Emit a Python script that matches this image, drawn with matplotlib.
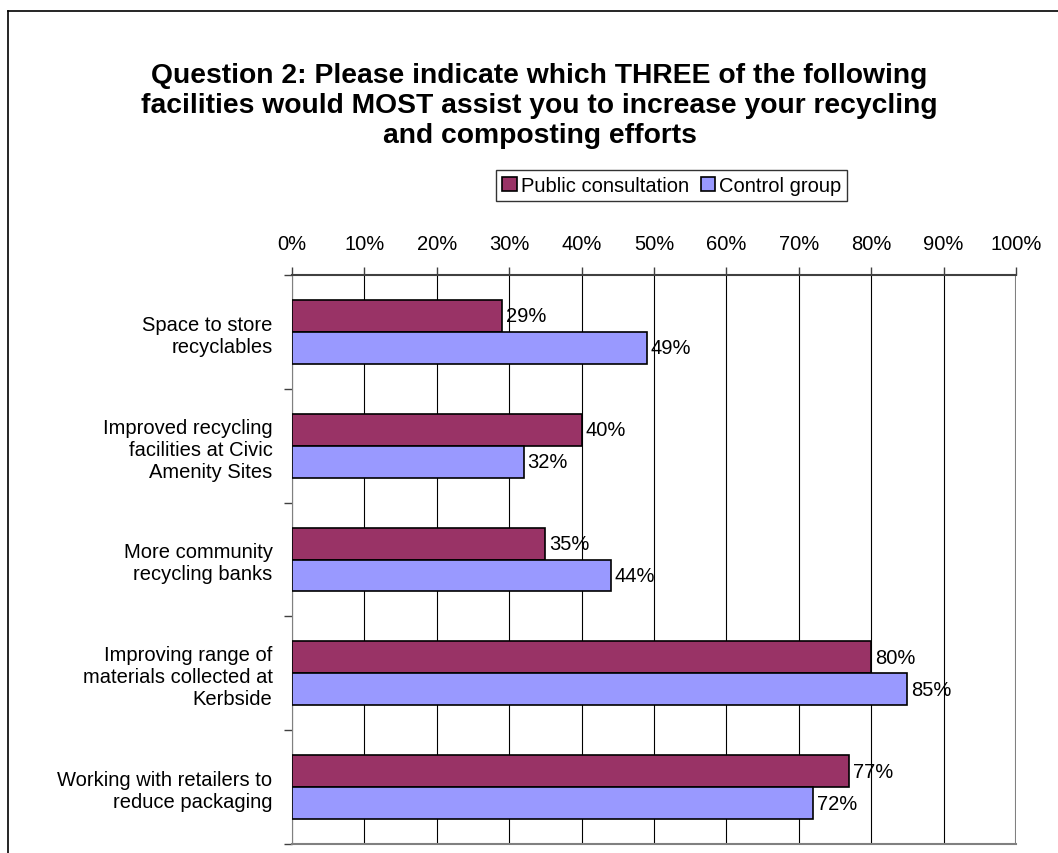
import numpy as np
import matplotlib.pyplot as plt
from matplotlib.lines import Line2D

plt.rcParams['font.family'] = ['Liberation Sans', 'DejaVu Sans']

categories = ["Space to store\nrecyclables",
              "Improved recycling\nfacilities at Civic\nAmenity Sites",
              "More community\nrecycling banks",
              "Improving range of\nmaterials collected at\nKerbside",
              "Working with retailers to\nreduce packaging"]
public_consultation = [29, 40, 35, 80, 77]
control_group = [49, 32, 44, 85, 72]
x_ticks = list(range(0, 101, 10))

fig = plt.figure(figsize=(10.58, 8.54), dpi=100)

# chart frame: top and left edges only (rest is cropped away)
fx, fy = 7.5 / 1058, 1 - 12 / 854
fig.lines.append(Line2D([fx, 1.0], [fy, fy], transform=fig.transFigure,
                        color='black', lw=1.2))
fig.lines.append(Line2D([fx, fx], [fy, 0.0], transform=fig.transFigure,
                        color='black', lw=1.2))

ax = fig.add_axes([292 / 1058, 9 / 854, 724 / 1058, 569 / 854])

y = np.arange(len(categories))
h = 0.28
ax.barh(y - h / 2, public_consultation, height=h, color='#993366',
        edgecolor='black', lw=1.2, label='Public consultation', zorder=3)
ax.barh(y + h / 2, control_group, height=h, color='#9999FF',
        edgecolor='black', lw=1.2, label='Control group', zorder=3)

for i in range(len(categories)):
    ax.text(public_consultation[i] + 0.5, y[i] - h / 2, f"{public_consultation[i]}%",
            va='center', ha='left', fontsize=14.5, zorder=4)
    ax.text(control_group[i] + 0.5, y[i] + h / 2, f"{control_group[i]}%",
            va='center', ha='left', fontsize=14.5, zorder=4)

ax.set_xlim(0, 100)
ax.set_ylim(len(categories) - 0.5, -0.5)
ax.xaxis.tick_top()
ax.set_xticks(x_ticks)
ax.set_xticklabels([f"{t}%" for t in x_ticks], fontsize=14.5)
ax.tick_params(axis='x', direction='out', length=6, width=1, color='#404040', pad=10)
ax.grid(axis='x', color='black', lw=0.8, zorder=0)
ax.get_xgridlines()[-1].set_color('#808080')
ax.get_xgridlines()[-1].set_linewidth(1.5)

ax.set_yticks(y)
ax.set_yticklabels(categories, fontsize=14.5, ha='right', multialignment='right')
ax.tick_params(axis='y', length=0, pad=14)
ax.set_yticks(np.arange(-0.5, len(categories)), minor=True)
ax.tick_params(axis='y', which='minor', length=6, width=1, color='#404040')

ax.spines['right'].set_visible(False)
ax.spines['top'].set_color('#404040')
ax.spines['top'].set_linewidth(1.5)
ax.spines['left'].set_color('#808080')
ax.spines['bottom'].set_color('#808080')
ax.spines['bottom'].set_linewidth(1.5)

fig.text(0.51, 0.876, "Question 2: Please indicate which THREE of the following\n"
         "facilities would MOST assist you to increase your recycling\n"
         "and composting efforts", ha='center', va='center',
         fontsize=20.3, fontweight='bold', linespacing=1.2)

leg = fig.legend(loc='center', bbox_to_anchor=(0.635, 0.782), ncol=2,
                 fontsize=14.5, frameon=True, fancybox=False, edgecolor='black',
                 handlelength=0.7, handleheight=0.7, handletextpad=0.2,
                 columnspacing=0.6, borderpad=0.3)
leg.get_frame().set_linewidth(1.0)

fig.savefig('out.png', dpi=100)
